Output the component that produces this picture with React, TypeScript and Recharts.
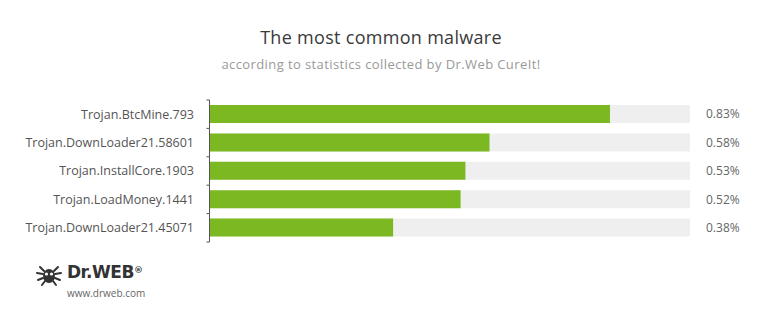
import React from "react";
import { BarChart, Bar, XAxis, YAxis } from "recharts";

const categories = [
  "Trojan.BtcMine.793",
  "Trojan.DownLoader21.58601",
  "Trojan.InstallCore.1903",
  "Trojan.LoadMoney.1441",
  "Trojan.DownLoader21.45071",
];
const shares = [0.83, 0.58, 0.53, 0.52, 0.38];
const shareLabels = ["0.83%", "0.58%", "0.53%", "0.52%", "0.38%"];

const data = categories.map((name, i) => ({ name, value: shares[i], label: shareLabels[i] }));
const labelFor: Record<string, string> = {};
data.forEach((d) => (labelFor[d.name] = d.label));

const FONT = "'Open Sans', 'DejaVu Sans', sans-serif";
const AXIS_GAP = 16;

function LeftTick(props: any) {
  const { x, y, payload, height, visibleTicksCount, index } = props;
  const band = height / visibleTicksCount;
  const ax = x + AXIS_GAP - 0.5;
  const top = y - band / 2;
  const bottom = y + band / 2;
  return (
    <g>
      <text x={x} y={y} dy="0.355em" textAnchor="end" fill="#555" fontSize={12.5} fontFamily={FONT}>
        {payload.value}
      </text>
      <line x1={ax} x2={ax} y1={top} y2={bottom} stroke="#555" strokeWidth={1} />
      <line x1={ax - 3} x2={ax} y1={top} y2={top} stroke="#555" strokeWidth={1} />
      {index === visibleTicksCount - 1 && (
        <line x1={ax - 3} x2={ax} y1={bottom} y2={bottom} stroke="#555" strokeWidth={1} />
      )}
    </g>
  );
}

function Spider() {
  return (
    <svg width={28} height={24} viewBox="0 0 28 24" style={{ position: "absolute", left: 35, top: 263 }}>
      <g stroke="#333" strokeWidth={2} fill="none" strokeLinecap="round">
        <path d="M5 4 L9 8 M23 4 L19 8 M2 10 L8 11 M26 10 L20 11 M3 17 L8 15 M25 17 L20 15 M7 22 L10 18 M21 22 L18 18" />
      </g>
      <ellipse cx={14} cy={13} rx={6} ry={7} fill="#333" />
      <circle cx={11.5} cy={11} r={1.6} fill="#fff" />
      <circle cx={16.5} cy={11} r={1.6} fill="#fff" />
    </svg>
  );
}

export default function App() {
  return (
    <div style={{ position: "absolute", left: 0, top: 0, width: 762, height: 317, background: "#fff", fontFamily: FONT }}>
      <div style={{ position: "absolute", left: 0, width: 762, top: 25, textAlign: "center", fontSize: 18, color: "#3a3a3a", letterSpacing: 0.3 }}>
        The most common malware
      </div>
      <div style={{ position: "absolute", left: 0, width: 762, top: 55, textAlign: "center", fontSize: 13, color: "#999", letterSpacing: 0.4 }}>
        according to statistics collected by Dr.Web CureIt!
      </div>
      <BarChart
        width={762}
        height={317}
        data={data}
        layout="vertical"
        margin={{ top: 100, right: 0, bottom: 75, left: 0 }}
        barCategoryGap={5}
      >
        <XAxis type="number" domain={[0, 0.996]} allowDataOverflow hide />
        <YAxis
          yAxisId="left"
          type="category"
          dataKey="name"
          orientation="left"
          width={210}
          axisLine={false}
          tickLine={false}
          tickSize={0}
          tickMargin={AXIS_GAP}
          tick={<LeftTick />}
        />
        <YAxis
          yAxisId="right"
          type="category"
          dataKey="name"
          orientation="right"
          width={72}
          axisLine={false}
          tickLine={false}
          tickMargin={10}
          tickFormatter={(v: string) => labelFor[v]}
          tick={{ fill: "#666", fontSize: 12, fontFamily: FONT, textAnchor: "start" }}
        />
        <Bar
          yAxisId="left"
          dataKey="value"
          fill="#7cb821"
          background={{ fill: "#efefef" }}
          isAnimationActive={false}
        />
      </BarChart>
      <Spider />
      <div style={{ position: "absolute", left: 67, top: 262, fontSize: 17, fontWeight: 900, color: "#333", fontFamily: "'DejaVu Sans', sans-serif", letterSpacing: -0.5 }}>
        Dr.WEB
      </div>
      <div style={{ position: "absolute", left: 134, top: 265, fontSize: 9, fontWeight: 700, color: "#333", fontFamily: "'DejaVu Sans', sans-serif" }}>®</div>
      <div style={{ position: "absolute", left: 67, top: 286, fontSize: 10, color: "#666" }}>www.drweb.com</div>
    </div>
  );
}
